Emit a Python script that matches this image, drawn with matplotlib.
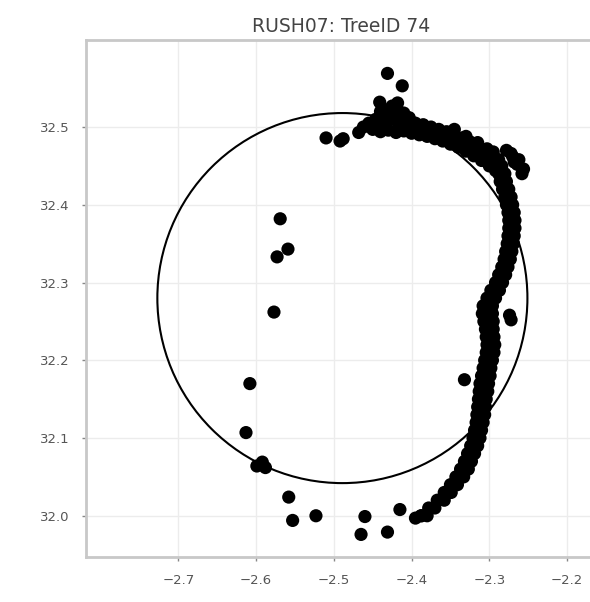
import matplotlib
matplotlib.use("Agg")
import matplotlib.pyplot as plt
from matplotlib.patches import Circle
import numpy as np

title = "RUSH07: TreeID 74"

# fitted circle (data units)
circle_x = -2.489
circle_y = 32.280
circle_r = 0.238

x_ticks = [-2.7, -2.6, -2.5, -2.4, -2.3, -2.2]
y_ticks = [32.0, 32.1, 32.2, 32.3, 32.4, 32.5]

# scattered points away from the main stem outline
outlier_x = [-2.569, -2.573, -2.559, -2.577, -2.608, -2.613, -2.599, -2.588, -2.592,
             -2.558, -2.553, -2.523, -2.510, -2.492, -2.488, -2.465, -2.460, -2.431,
             -2.415, -2.395, -2.387, -2.431, -2.412, -2.332, -2.274, -2.272]
outlier_y = [32.382, 32.333, 32.343, 32.262, 32.170, 32.107, 32.064, 32.062, 32.069,
             32.024, 31.994, 32.000, 32.486, 32.482, 32.485, 31.976, 31.999, 31.979,
             32.008, 31.997, 32.000, 32.569, 32.553, 32.175, 32.258, 32.252]

# top part of the outline (upper band)
top_x = [-2.468, -2.462, -2.455, -2.450, -2.446, -2.441, -2.441, -2.440, -2.437, -2.434,
         -2.433, -2.431, -2.428, -2.425, -2.421, -2.418, -2.418, -2.416, -2.413, -2.410,
         -2.409, -2.405, -2.403, -2.400, -2.395, -2.390, -2.385, -2.380, -2.375, -2.370,
         -2.365, -2.360, -2.355, -2.350, -2.345, -2.340, -2.335, -2.330, -2.325, -2.320,
         -2.315, -2.310, -2.305, -2.300, -2.296, -2.292, -2.288, -2.284,
         -2.440, -2.430, -2.420, -2.410, -2.400, -2.390, -2.380, -2.370, -2.360, -2.350,
         -2.340, -2.330, -2.320, -2.310, -2.300, -2.292, -2.286,
         -2.278, -2.270, -2.262, -2.256, -2.258, -2.264, -2.272, -2.268,
         -2.345, -2.330, -2.315, -2.303, -2.295]
top_y = [32.493, 32.500, 32.505, 32.497, 32.510, 32.503, 32.532, 32.520, 32.512, 32.497,
         32.522, 32.507, 32.515, 32.527, 32.510, 32.531, 32.522, 32.500, 32.508, 32.518,
         32.503, 32.507, 32.512, 32.500, 32.505, 32.498, 32.503, 32.496, 32.500, 32.494,
         32.497, 32.490, 32.494, 32.487, 32.490, 32.482, 32.486, 32.478, 32.481, 32.472,
         32.476, 32.466, 32.470, 32.460, 32.464, 32.455, 32.458, 32.450,
         32.494, 32.496, 32.493, 32.495, 32.492, 32.490, 32.488, 32.485, 32.482, 32.478,
         32.474, 32.469, 32.463, 32.457, 32.450, 32.444, 32.438,
         32.470, 32.462, 32.458, 32.446, 32.440, 32.452, 32.466, 32.455,
         32.497, 32.488, 32.480, 32.472, 32.468]

# right/bottom part of the outline (two rows per level)
right_y = [32.44, 32.43, 32.42, 32.41, 32.40, 32.39, 32.38, 32.37, 32.36, 32.35,
           32.34, 32.33, 32.32, 32.31, 32.30, 32.29, 32.28, 32.27, 32.26, 32.25,
           32.24, 32.23, 32.22, 32.21, 32.20, 32.19, 32.18, 32.17, 32.16, 32.15,
           32.14, 32.13, 32.12, 32.11, 32.10, 32.09, 32.08, 32.07, 32.06, 32.05,
           32.04, 32.03, 32.02, 32.01, 32.00]
right_x_outer = [-2.280, -2.278, -2.275, -2.272, -2.270, -2.268, -2.267, -2.267, -2.268, -2.269,
                 -2.271, -2.273, -2.276, -2.279, -2.283, -2.287, -2.292, -2.296, -2.296, -2.295,
                 -2.295, -2.294, -2.293, -2.294, -2.296, -2.298, -2.299, -2.301, -2.302, -2.304,
                 -2.305, -2.306, -2.308, -2.310, -2.312, -2.315, -2.319, -2.323, -2.327, -2.333,
                 -2.341, -2.349, -2.358, -2.370, -2.380]
right_x_inner = [-2.288, -2.286, -2.283, -2.280, -2.278, -2.276, -2.275, -2.275, -2.276, -2.277,
                 -2.279, -2.281, -2.284, -2.288, -2.292, -2.298, -2.303, -2.308, -2.309, -2.307,
                 -2.305, -2.304, -2.303, -2.304, -2.306, -2.308, -2.310, -2.312, -2.313, -2.314,
                 -2.315, -2.316, -2.317, -2.319, -2.321, -2.324, -2.328, -2.332, -2.337, -2.343,
                 -2.350, -2.358, -2.367, -2.378, -2.388]

fig = plt.figure(figsize=(5.9, 6.02), dpi=100)
ax = fig.add_axes([0.144, 0.0748, 0.87, 0.8588])

ax.set_xlim(-2.819, -2.161)
ax.set_ylim(31.947, 32.612)
ax.set_aspect("equal", adjustable="box")

ax.grid(True, color="#ececec", linewidth=1.0)
ax.set_axisbelow(True)

dot = dict(s=90, color="black", edgecolors="none", zorder=3)
ax.scatter(outlier_x, outlier_y, **dot)
ax.scatter(top_x, top_y, **dot)
ax.scatter(right_x_outer, right_y, **dot)
ax.scatter(right_x_inner, right_y, **dot)

ax.add_patch(Circle((circle_x, circle_y), circle_r, fill=False,
                    edgecolor="black", linewidth=1.5, zorder=4))

ax.set_xticks(x_ticks)
ax.set_xticklabels([f"{v:.1f}".replace("-", "\u2212") for v in x_ticks])
ax.set_yticks(y_ticks)
ax.set_yticklabels([f"{v:.1f}" for v in y_ticks])

for side in ["left", "bottom", "top"]:
    ax.spines[side].set_color("#c8c8c8")
    ax.spines[side].set_linewidth(2.0)
ax.spines["right"].set_visible(False)

ax.tick_params(axis="both", colors="#888888", labelcolor="#555555",
               labelsize=9.5, length=3, width=1, pad=9)

ax.set_title(title, fontsize=13.5, color="#444444", pad=6)

fig.savefig("out.png", dpi=100)
